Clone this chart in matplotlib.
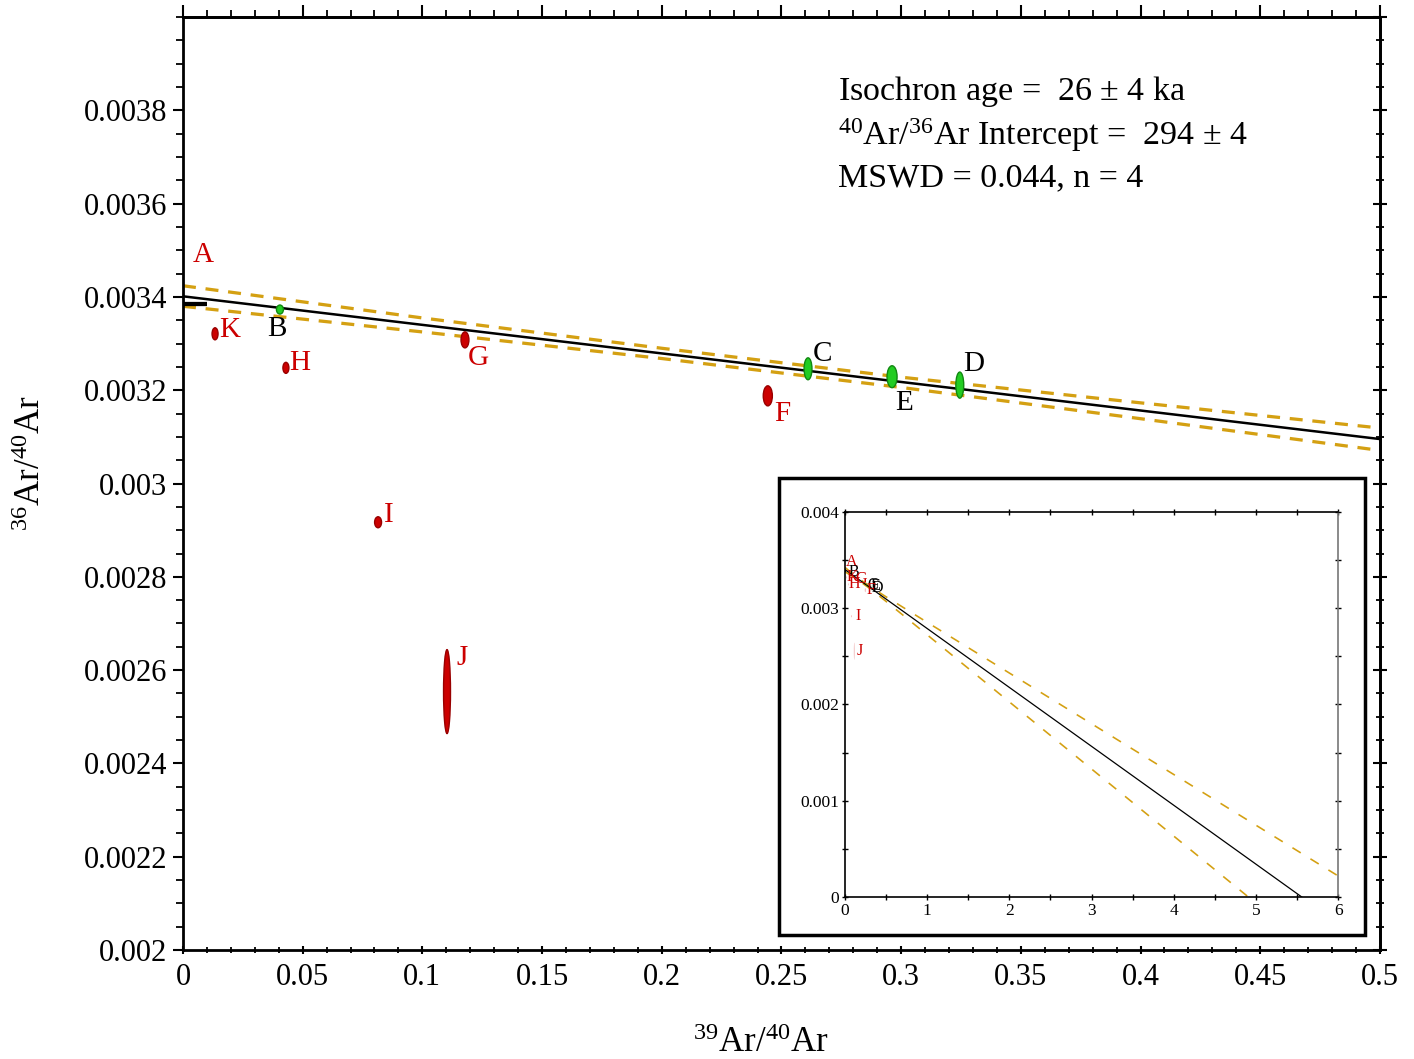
import numpy as np
import matplotlib
matplotlib.use("Agg")
import matplotlib.pyplot as plt
from matplotlib.patches import Ellipse, Rectangle
from matplotlib.ticker import MultipleLocator, FormatStrFormatter

plt.rcParams['font.family'] = 'Liberation Serif'
plt.rcParams['mathtext.fontset'] = 'custom'
plt.rcParams['mathtext.rm'] = 'Liberation Serif'
plt.rcParams['mathtext.it'] = 'Liberation Serif:italic'
plt.rcParams['mathtext.bf'] = 'Liberation Serif:bold'

# steps: 39Ar/40Ar, 36Ar/40Ar and half-widths of the error ellipses
steps = ['A', 'B', 'C', 'D', 'E', 'F', 'G', 'H', 'I', 'J', 'K']
x39 = [0.0021, 0.0405, 0.2611, 0.3245, 0.2962, 0.2443, 0.1178, 0.0430, 0.0815, 0.1103, 0.0134]
y36 = [0.003482, 0.003373, 0.003246, 0.003211, 0.003229, 0.003188, 0.003308, 0.003248, 0.002917, 0.002554, 0.003321]
sx = [0.0, 0.00145, 0.00165, 0.00165, 0.0021, 0.0019, 0.00165, 0.00125, 0.00145, 0.00145, 0.00125]
sy = [0.0, 0.0000097, 0.0000235, 0.000028, 0.0000235, 0.0000215, 0.0000172, 0.0000118, 0.0000118, 0.00009, 0.0000129]
used = [False, True, True, True, True, False, False, False, False, False, False]

# label offsets (pixels) from each ellipse centre
lab_dx = [15, -3, 14, 14, 12, 14, 13, 14, 11, 15, 15]
lab_dy = [4, -19, 15, 21, -26, -18, -18, 5, 7, 34, 4]

# isochron fit: intercept 1/294, slope
fit_b = 1 / 294.0
fit_m = -0.000612
atm = 1 / 295.5

# confidence envelope
env_x = [0, 0.1, 0.2, 0.3, 0.4, 0.5, 1, 2, 3, 4, 5, 6]
env_hi = [0.003424, 0.003355, 0.003290, 0.003228, 0.003173, 0.003119, 0.002854, 0.002327, 0.001800, 0.001273, 0.000746, 0.000219]
env_lo = [0.003380, 0.003325, 0.003268, 0.003206, 0.003139, 0.003071, 0.002724, 0.002027, 0.001330, 0.000633, -0.000064, -0.000761]

stats = [r'Isochron age =  26 $\pm$ 4 ka',
         r'$^{40}$Ar/$^{36}$Ar Intercept =  294 $\pm$ 4',
         'MSWD = 0.044, n = 4']
stats_y = [0.9110, 0.8630, 0.8190]

RED = '#cc0000'
GREEN = '#22cc22'
GOLD = '#d4a012'

fig = plt.figure(figsize=(14.14, 10.59), dpi=100)
ax = fig.add_axes([0.1294, 0.1029, 0.8465, 0.881])


def draw_isochron(a, xmax, lw, dash, ell_edge):
    xs = np.array([0, xmax])
    a.plot(xs, fit_b + fit_m * xs, color='black', lw=lw, zorder=3)
    a.plot(env_x, env_hi, color=GOLD, lw=lw * 1.3, dashes=dash, zorder=2)
    a.plot(env_x, env_lo, color=GOLD, lw=lw * 1.3, dashes=dash, zorder=2)
    a.plot([0, 0.01], [atm, atm], color='black', lw=lw * 1.7, solid_capstyle='butt', zorder=4)
    for i in range(len(steps)):
        if sx[i] == 0:
            continue
        fc = GREEN if used[i] else RED
        ec = '#118811' if used[i] else '#990000'
        a.add_patch(Ellipse((x39[i], y36[i]), 2 * sx[i], 2 * sy[i], facecolor=fc,
                            edgecolor=ec, lw=ell_edge, zorder=5))


draw_isochron(ax, 0.5, 1.8, (4, 3), 1.0)
for i, s in enumerate(steps):
    ax.annotate(s, (x39[i], y36[i]), xytext=(lab_dx[i], lab_dy[i]), textcoords='offset pixels',
                ha='center', va='center', fontsize=21,
                color='black' if used[i] else RED, zorder=6)

ax.set_xlim(0, 0.5)
ax.set_ylim(0.002, 0.004)
ax.set_xticks(np.round(np.arange(0, 0.5001, 0.05), 2))
ax.set_yticks(np.round(np.arange(0.002, 0.00381, 0.0002), 4))
ax.xaxis.set_minor_locator(MultipleLocator(0.01))
ax.yaxis.set_minor_locator(MultipleLocator(0.00005))
ax.xaxis.set_major_formatter(FormatStrFormatter('%g'))
ax.yaxis.set_major_formatter(FormatStrFormatter('%g'))
ax.tick_params(axis='y', which='major', direction='out', length=7.5, width=1.5, labelsize=22, pad=4)
ax.tick_params(axis='y', which='minor', direction='out', length=5, width=1.3)
ax.tick_params(axis='x', which='major', direction='inout', length=6, width=1.5, labelsize=22, pad=6)
ax.tick_params(axis='x', which='minor', direction='inout', length=4, width=1.3)
for sp in ax.spines.values():
    sp.set_linewidth(2)

top = ax.secondary_xaxis('top')
top.set_xticks(np.round(np.arange(0, 0.5001, 0.05), 2))
top.xaxis.set_minor_locator(MultipleLocator(0.01))
top.tick_params(which='major', direction='out', length=9, width=1.5, labeltop=False)
top.tick_params(which='minor', direction='out', length=5, width=1.3)
top.spines['top'].set_linewidth(2)

right = ax.secondary_yaxis('right')
right.set_yticks(np.round(np.arange(0.002, 0.0040001, 0.0002), 4))
right.yaxis.set_minor_locator(MultipleLocator(0.00005))
right.tick_params(which='major', direction='inout', length=9.5, width=1.5, labelright=False)
right.tick_params(which='minor', direction='inout', length=6, width=1.3)
right.spines['right'].set_linewidth(2)

ax.set_xlabel(r'$^{39}$Ar/$^{40}$Ar', fontsize=25)
ax.set_ylabel(r'$^{36}$Ar/$^{40}$Ar', fontsize=25)
ax.xaxis.set_label_coords(0.483, -0.083)
ax.yaxis.set_label_coords(-0.113, 0.522)

for line, yy in zip(stats, stats_y):
    ax.text(0.547, yy, line, transform=ax.transAxes,
            fontsize=24.5, va='baseline', ha='left')

# inset showing the full extrapolation to the x-axis
fig.add_artist(Rectangle((0.551, 0.1171), 0.4144, 0.4315, transform=fig.transFigure,
                         facecolor='white', edgecolor='black', lw=2.5, zorder=0.5))
ins = fig.add_axes([0.5976, 0.153, 0.3487, 0.3635], zorder=1)
draw_isochron(ins, 6, 0.9, (6, 7), 0)
for i, s in enumerate(steps):
    ins.annotate(s, (x39[i], y36[i]), xytext=(6, 0), textcoords='offset pixels',
                 ha='center', va='center', fontsize=11.5,
                 color='black' if used[i] else RED, zorder=6)
ins.set_xlim(0, 6)
ins.set_ylim(0, 0.004)
ins.set_xticks(range(7))
ins.set_yticks([0, 0.001, 0.002, 0.003, 0.004])
ins.xaxis.set_minor_locator(MultipleLocator(0.5))
ins.yaxis.set_minor_locator(MultipleLocator(0.0005))
ins.yaxis.set_major_formatter(FormatStrFormatter('%g'))
ins.tick_params(which='both', direction='inout', length=5, width=1, top=True, right=True,
                labelsize=12.5, pad=2)
for sp in ins.spines.values():
    sp.set_linewidth(1.2)
ins.spines['right'].set_color('#777777')

fig.savefig('out.png', dpi=100)
